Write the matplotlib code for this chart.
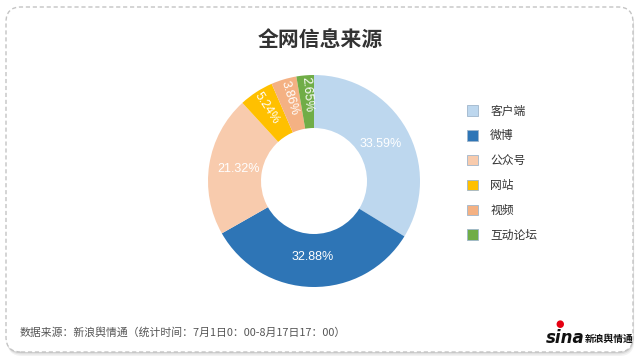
import matplotlib
matplotlib.use("Agg")
import matplotlib.pyplot as plt
from matplotlib.patches import FancyBboxPatch
import numpy as np

plt.rcParams['font.family'] = ['Noto Sans CJK SC', 'DejaVu Sans']

title = "全网信息来源"
categories = ["客户端", "微博", "公众号", "网站", "视频", "互动论坛"]
shares = [33.59, 32.88, 21.32, 5.24, 3.86, 2.65]
share_labels = ["33.59%", "32.88%", "21.32%", "5.24%", "3.86%", "2.65%"]
colors = ["#BDD7EE", "#2E75B6", "#F8CBAD", "#FFC000", "#F4B183", "#70AD47"]
source_note = "数据来源：新浪舆情通（统计时间：7月1日0：00-8月17日17：00）"

fig = plt.figure(figsize=(6.4, 3.6), dpi=100)
fig.patch.set_facecolor("white")

# card with shadow and dashed rounded border
for off, a in [(0.04, 0.05), (0.025, 0.06), (0.012, 0.08)]:
    sh = FancyBboxPatch((0.06 + off * 0.3, 0.08 - off), 6.27, 3.45,
                        boxstyle="round,pad=0,rounding_size=0.15",
                        transform=fig.dpi_scale_trans, facecolor="#000000",
                        edgecolor="none", alpha=a, zorder=-3)
    fig.patches.append(sh)
card = FancyBboxPatch((0.06, 0.08), 6.27, 3.45,
                      boxstyle="round,pad=0,rounding_size=0.15",
                      transform=fig.dpi_scale_trans, facecolor="white",
                      edgecolor="#c4c4c4", linestyle=(0, (3, 2)), linewidth=1.0,
                      zorder=-2)
fig.patches.append(card)

# donut
cx, cy, r = 314, 181, 106
ax = fig.add_axes([(cx - r) / 640, (360 - cy - r) / 360, 2 * r / 640, 2 * r / 360])
wedges, _ = ax.pie(shares, colors=colors, startangle=90, counterclock=False,
                   radius=1, wedgeprops=dict(width=0.5, edgecolor="none"))
ax.set_xlim(-1, 1)
ax.set_ylim(-1, 1)
ax.axis("off")

for i, w in enumerate(wedges):
    ang = (w.theta1 + w.theta2) / 2
    if shares[i] > 10:
        rr, rot = 0.72, 0
    else:
        rr, rot = 0.82, ang - 180
    x = rr * np.cos(np.radians(ang))
    y = rr * np.sin(np.radians(ang))
    ax.text(x, y, share_labels[i], ha="center", va="center", rotation=rot,
            rotation_mode="anchor", color="white", fontsize=9,
            family=["Liberation Sans", "DejaVu Sans"])

fig.text(0.5, 1 - 40 / 360, title, ha="center", va="center", fontsize=15,
         fontweight="bold", color="#333333")

leg = fig.legend(wedges, categories, loc="upper left",
                 bbox_to_anchor=(456 / 640, 1 - 94 / 360), frameon=False,
                 fontsize=8.5, handlelength=1.0, handleheight=1.0,
                 labelspacing=1.0, handletextpad=1.0)
for t in leg.get_texts():
    t.set_color("#333333")
for h in leg.legend_handles:
    h.set_edgecolor("#9fb6cc")
    h.set_linewidth(0.6)

fig.text(20 / 640, 1 - 333 / 360, source_note, ha="left", va="center",
         fontsize=7.8, color="#555555")

# logo
fig.text(546 / 640, 1 - 338 / 360, "sina", ha="left", va="center",
         fontsize=12, fontweight="bold", style="italic", color="#111111",
         family=["DejaVu Sans"])
fig.text(560 / 640, 1 - 324 / 360, "●", ha="center", va="center",
         fontsize=7, color="#e60012", family=["DejaVu Sans"])
fig.text(585 / 640, 1 - 339 / 360, "新浪舆情通", ha="left", va="center",
         fontsize=7, fontweight="bold", color="#111111")

fig.savefig("out.png", dpi=100)
